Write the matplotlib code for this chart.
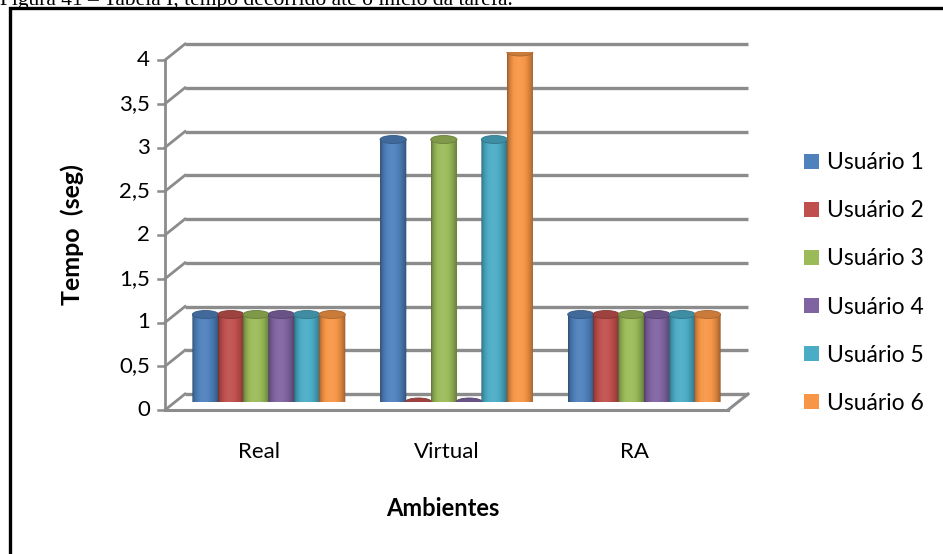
import numpy as np
import matplotlib.pyplot as plt
import matplotlib.colors as mcolors
from matplotlib.patches import Ellipse, PathPatch, Patch, Rectangle
from matplotlib.path import Path

plt.rcParams['font.family'] = ['Lato', 'DejaVu Sans']

# dados
categorias = ["Real", "Virtual", "RA"]
usuarios = ["Usuário 1", "Usuário 2", "Usuário 3", "Usuário 4", "Usuário 5", "Usuário 6"]
usuario1 = [1, 3, 1]
usuario2 = [1, 0, 1]
usuario3 = [1, 3, 1]
usuario4 = [1, 0, 1]
usuario5 = [1, 3, 1]
usuario6 = [1, 4, 1]
series = [usuario1, usuario2, usuario3, usuario4, usuario5, usuario6]
cores = ["#4F81BD", "#C0504D", "#9BBB59", "#8064A2", "#4BACC6", "#F79646"]
yticks = [0, 0.5, 1, 1.5, 2, 2.5, 3, 3.5, 4]
ytick_labels = ["0", "0,5", "1", "1,5", "2", "2,5", "3", "3,5", "4"]

W, H = 943, 554
fig = plt.figure(figsize=(W / 100, H / 100), dpi=100)

# eixo no plano do meio (profundidade)
ax_l, ax_r, ax_b, ax_t = 175, 738, 402, 52
ax = fig.add_axes([ax_l / W, (H - ax_b) / H, (ax_r - ax_l) / W, (ax_b - ax_t) / H])
ax.set_xlim(-0.5, 2.5)
ax.set_ylim(0, 4)
ax.axis('off')

px_x = (ax_r - ax_l) / 3.0   # pixels por unidade x
px_y = (ax_b - ax_t) / 4.0   # pixels por unidade y
dx = 10 / px_x
dy = 8 / px_y
cinza = '#8c8c8c'

# grelha da parede de tras + ligacoes diagonais
for v, lab in zip(yticks, ytick_labels):
    ax.plot([-0.5 + dx, 2.5 + dx], [v + dy, v + dy], color=cinza, lw=2.4,
            solid_capstyle='butt', clip_on=False, zorder=1)
    ax.plot([-0.5 - dx, -0.5 + dx], [v - dy, v + dy], color=cinza, lw=2.0,
            clip_on=False, zorder=1)
    ax.plot([-0.5 - dx - 7 / px_x, -0.5 - dx], [v - dy, v - dy], color=cinza, lw=1.8,
            clip_on=False, zorder=1)
    ax.text(-0.5 - dx - 15 / px_x, v - dy, lab, ha='right', va='center',
            fontsize=16, color='black')

# eixo vertical e chao
ax.plot([-0.5 - dx, -0.5 - dx], [-dy, 4 - dy], color=cinza, lw=2.0, clip_on=False, zorder=1)
ax.plot([-0.5 - dx, 2.5 - dx], [-dy, -dy], color=cinza, lw=2.2, clip_on=False, zorder=1)
ax.plot([2.5 - dx, 2.5 + dx], [-dy, dy], color=cinza, lw=2.2, clip_on=False, zorder=1)

for i, c in enumerate(categorias):
    ax.text(i - dx, -dy - 42 / px_y, c, ha='center', va='center', fontsize=16)

# cilindros
esp = 0.135
larg = 0.14
eh = 8 / px_y
t = np.linspace(0, 1, 64)
perfil = 0.58 + 0.48 * np.sin(np.pi * t ** 0.85) ** 0.7


def sombra(cor, f):
    base = np.array(mcolors.to_rgb(cor))
    out = []
    for k in f:
        if k <= 1:
            out.append(base * k)
        else:
            out.append(base + (1 - base) * (k - 1))
    return np.clip(np.array(out), 0, 1)


for j, (serie, cor) in enumerate(zip(series, cores)):
    pos = np.arange(len(categorias)) + (j - 2.5) * esp
    barras = ax.bar(pos, serie, width=larg, color=cor, zorder=3 + j, linewidth=0)
    grad = sombra(cor, perfil)[np.newaxis, :, :]
    for b in barras:
        x0, w, h = b.get_x(), b.get_width(), b.get_height()
        xc = x0 + w / 2
        ang = np.linspace(0, np.pi, 30)
        verts = [(x0, h)] + [(xc - w / 2 * np.cos(a), -eh / 2 * np.sin(a)) for a in ang] + [(x0 + w, h), (x0, h)]
        clip = PathPatch(Path(verts), transform=ax.transData)
        b.set_visible(False)
        im = ax.imshow(grad, extent=[x0, x0 + w, -eh / 2, h], aspect='auto',
                       interpolation='bilinear', zorder=3 + j)
        im.set_clip_path(clip)
        topo = sombra(cor, [0.82])[0]
        ax.add_patch(Ellipse((xc, h), w, eh, facecolor=topo,
                             edgecolor=sombra(cor, [0.68])[0], lw=0.6, zorder=3.5 + j))

ax.set_xlim(-0.5, 2.5)
ax.set_ylim(0, 4)

# titulos
fig.text(443 / W, 1 - 508 / H, "Ambientes", ha='center', va='center', fontsize=17, fontweight='bold')
fig.text(72 / W, 1 - 235 / H, "Tempo  (seg)", ha='center', va='center', rotation=90,
         fontsize=18, fontweight='bold')

# legenda
handles = [Patch(facecolor=c) for c in cores]
fig.legend(handles, usuarios, loc='center left', bbox_to_anchor=(804 / W, 1 - 283 / H),
           frameon=False, fontsize=16.5, handlelength=0.65, handleheight=0.65,
           handletextpad=0.35, labelspacing=1.18, borderpad=0, borderaxespad=0)

# moldura e legenda da figura (cortada no topo, como no original)
fig.add_artist(Rectangle((9.5 / W, -0.1), 1.2, 1 - 8.5 / H + 0.1, transform=fig.transFigure,
                         fill=False, edgecolor='black', lw=2.4))
fig.text(0, 1 - 5 / H, "Figura 41 – Tabela I, tempo decorrido até o início da tarefa.",
         family='Liberation Serif', fontsize=15.5, va='baseline')

fig.savefig("out.png", dpi=100)
